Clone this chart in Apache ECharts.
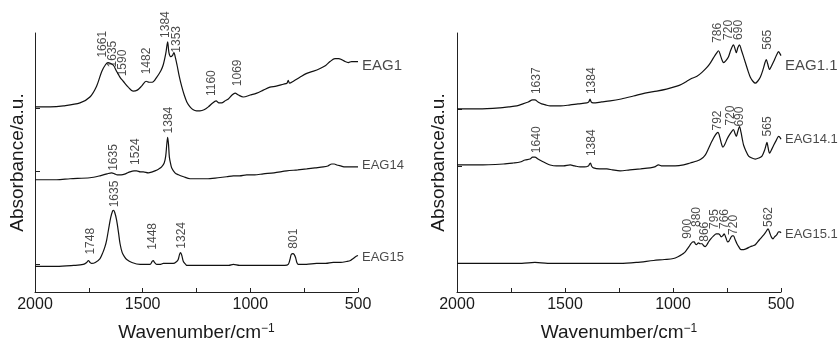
<!DOCTYPE html>
<html>
<head>
<meta charset="utf-8">
<title>FTIR spectra</title>
<script src="https://cdn.jsdelivr.net/npm/echarts@6/dist/echarts.min.js"></script>
<style>
  html, body { margin: 0; padding: 0; background: #fff; }
  #chart { width: 839px; height: 347px; }
</style>
</head>
<body>
<div id="chart"></div>
<script>
// spectra, [wavenumber, absorbance a.u.]
const eag1 = [[2000,188],[1930,188],[1868,189],[1791,192],[1745,198],[1714,209],[1690,224],[1672,231],[1661,233],[1648,232],[1635,230],[1621,224],[1605,218],[1590,214],[1567,208],[1544,204],[1525,205],[1505,209],[1484,214],[1470,213],[1455,213],[1435,218],[1415,225],[1404,231],[1392,243],[1384,254],[1378,243],[1370,239],[1362,240],[1355,243],[1348,238],[1340,230],[1330,219],[1319,209],[1307,200],[1295,193],[1280,188],[1265,185],[1250,184],[1234,184],[1215,185],[1195,188],[1175,192],[1159,194],[1146,192],[1133,192],[1118,194],[1102,196],[1085,200],[1071,202],[1055,200],[1033,198],[1000,200],[970,202],[940,205],[909,208],[880,209],[847,211],[830,212],[824,215],[818,212],[800,214],[770,218],[738,222],[710,224],[676,227],[650,230],[630,234],[607,237],[590,237],[576,236],[560,234],[545,233],[530,234],[514,234],[500,234]]
const eag14 = [[2000,114],[1900,114],[1837,115],[1745,116],[1698,118],[1665,120],[1644,121],[1630,120],[1618,119],[1600,119],[1580,120],[1559,122],[1540,123],[1528,123],[1510,122],[1497,122],[1474,121],[1455,122],[1443,123],[1425,125],[1412,127],[1400,131],[1393,138],[1388,150],[1384,157],[1380,150],[1376,137],[1370,130],[1365,126],[1350,121],[1334,119],[1310,117],[1280,115],[1240,115],[1203,115],[1150,116],[1110,117],[1079,118],[1050,118],[1017,119],[980,119],[940,120],[890,121],[831,123],[780,124],[738,125],[700,126],[661,127],[640,128],[622,130],[610,130],[599,129],[580,128],[560,127],[530,127],[500,127]]
const eag15 = [[2000,26],[1900,26],[1820,27],[1776,28],[1760,30],[1752,32],[1744,30],[1737,29],[1720,30],[1698,34],[1685,40],[1675,46],[1667,53],[1655,68],[1648,76],[1640,82],[1636,83],[1630,81],[1621,73],[1612,60],[1605,49],[1595,40],[1585,36],[1574,33],[1550,30],[1512,28],[1466,28],[1456,31],[1451,32],[1445,30],[1435,28],[1420,28],[1404,29],[1380,29],[1358,29],[1342,31],[1335,33],[1329,38],[1324,40],[1318,37],[1311,31],[1300,28],[1296,27],[1250,27],[1200,27],[1156,27],[1100,27],[1079,28],[1050,27],[986,27],[900,27],[840,27],[824,28],[816,33],[810,38],[802,39],[796,38],[790,35],[784,30],[777,28],[740,28],[692,29],[650,29],[615,30],[580,30],[553,31],[535,32],[522,34],[510,36],[500,37]]

const eag11 = [[2000,186],[1900,186],[1801,187],[1760,188],[1723,189],[1695,191],[1670,193],[1650,195],[1639,195],[1625,193],[1608,191],[1590,190],[1569,189],[1520,189],[1476,190],[1440,191],[1399,192],[1390,193],[1384,196],[1379,193],[1370,192],[1330,193],[1291,194],[1240,196],[1183,199],[1130,202],[1075,204],[1030,206],[982,209],[960,211],[936,214],[912,217],[889,219],[866,223],[843,228],[826,233],[812,238],[800,242],[789,245],[780,240],[772,235],[766,233],[755,235],[743,239],[732,246],[720,251],[713,247],[707,243],[700,248],[692,251],[684,246],[675,240],[665,233],[652,224],[642,218],[630,214],[619,212],[608,214],[596,218],[583,226],[574,233],[568,236],[562,232],[553,226],[545,229],[534,234],[522,240],[511,244],[505,242],[500,240]]
const eag141 = [[2000,129],[1900,129],[1785,130],[1740,131],[1708,132],[1685,134],[1662,135],[1650,137],[1639,137],[1625,135],[1608,133],[1590,131],[1569,129],[1540,128],[1507,128],[1476,129],[1455,128],[1430,127],[1410,127],[1392,128],[1386,130],[1382,131],[1377,128],[1368,126],[1340,125],[1306,125],[1280,124],[1245,123],[1200,124],[1150,125],[1106,126],[1085,127],[1067,129],[1050,128],[1028,128],[990,128],[951,129],[920,131],[889,133],[870,135],[851,139],[835,146],[820,153],[805,159],[792,162],[782,156],[775,150],[769,147],[760,150],[750,155],[743,158],[731,162],[720,165],[713,161],[707,158],[700,163],[692,168],[685,162],[678,154],[673,149],[662,143],[650,138],[635,136],[619,135],[603,136],[588,138],[576,144],[568,150],[565,152],[560,147],[553,141],[545,144],[534,149],[522,154],[511,158],[505,157],[500,155]]
const eag151 = [[2000,29],[1900,29],[1785,29],[1700,29],[1639,30],[1580,29],[1523,29],[1450,29],[1384,29],[1300,29],[1245,29],[1170,30],[1090,32],[1040,33],[998,34],[975,36],[959,38],[947,40],[936,43],[926,46],[917,49],[908,51],[902,51],[897,49],[892,48],[887,49],[882,50],[875,49],[866,49],[858,47],[851,46],[843,48],[835,51],[825,54],[812,57],[800,59],[789,59],[783,58],[777,56],[770,57],[763,59],[755,55],[747,51],[740,52],[733,55],[726,57],[720,57],[712,53],[704,49],[696,46],[685,43],[673,43],[660,44],[642,46],[630,47],[619,48],[608,51],[596,54],[580,58],[570,61],[560,64],[552,60],[545,56],[537,54],[530,56],[520,58],[511,61],[505,61],[500,60]]

// peak annotations, [wavenumber, height, text]
const eag1Peaks = [[1684,238,'1661'],[1638,228,'1635'],[1591,219,'1590'],[1480,221,'1482'],[1392,258,'1384'],[1341,243,'1353'],[1178,199,'1160'],[1057,209,'1069']]
const eag14Peaks = [[1633,123,'1635'],[1532,129,'1524'],[1381,161,'1384']]
const eag15Peaks = [[1741,38,'1748'],[1628,86,'1635'],[1455,43,'1448'],[1319,44,'1324'],[797,44,'801']]
const eag11Peaks = [[1631,201,'1637'],[1376,201,'1384'],[794,253,'786'],[743,256,'720'],[696,256,'690'],[562,246,'565']]
const eag141Peaks = [[1631,141,'1640'],[1376,138,'1384'],[794,164,'792'],[735,169,'720'],[689,168,'690'],[561,158,'565']]
const eag151Peaks = [[933,54,'900'],[892,66,'880'],[855,51,'866'],[809,64,'795'],[763,64,'766'],[720,58,'720'],[557,66,'562']]

// baseline marks on the absorbance axes
const leftBaseTicks = [187, 123, 28]
const rightBaseTicks = [186, 128, 29]

const font = 'Liberation Sans, Arial, Helvetica, sans-serif'
const ink = '#1a1a1a'

function xAxis(idx) {
  return {
    type: 'value',
    gridIndex: idx,
    min: 500,
    max: 2000,
    interval: 500,
    inverse: true,
    name: 'Wavenumber/cm{sup|−1}',
    nameLocation: 'middle',
    nameGap: 31,
    nameTextStyle: {
      fontSize: 19,
      color: ink,
      fontFamily: font,
      rich: {
        sup: { fontSize: 12, verticalAlign: 'top', lineHeight: 10, color: ink, fontFamily: font }
      }
    },
    axisLine: { lineStyle: { color: '#222', width: 1 } },
    axisTick: { inside: true, length: 4, lineStyle: { color: '#222' } },
    minorTick: { show: true, splitNumber: 2, length: 4, lineStyle: { color: '#222' } },
    axisLabel: { margin: 5, fontSize: 16, color: ink, fontFamily: font, formatter: v => String(v) },
    splitLine: { show: false }
  }
}

function yAxis(idx, ticks, gap) {
  return {
    type: 'value',
    gridIndex: idx,
    min: 0,
    max: 263,
    name: 'Absorbance/a.u.',
    nameLocation: 'middle',
    nameGap: gap,
    nameTextStyle: { fontSize: 19, color: ink, fontFamily: font },
    axisLine: { show: true, lineStyle: { color: '#222', width: 1 } },
    axisTick: { show: true, inside: true, length: 5, customValues: ticks, lineStyle: { color: '#222' } },
    axisLabel: { show: false },
    splitLine: { show: false }
  }
}

function spectrum(data, idx) {
  return {
    type: 'line',
    xAxisIndex: idx,
    yAxisIndex: idx,
    data: data,
    showSymbol: false,
    smooth: 0.3,
    silent: true,
    lineStyle: { color: '#111', width: 1.2 }
  }
}

function peakLabels(marks, idx) {
  return {
    type: 'scatter',
    xAxisIndex: idx,
    yAxisIndex: idx,
    data: marks,
    symbolSize: 0,
    silent: true,
    label: {
      show: true,
      position: 'inside',
      rotate: 90,
      align: 'left',
      verticalAlign: 'middle',
      fontSize: 12,
      fontFamily: font,
      color: ink,
      formatter: p => p.data[2]
    }
  }
}

// sample name at the right end of each trace
function nameLabel(name, data, idx, size, dy) {
  const last = data[data.length - 1]
  return {
    type: 'scatter',
    xAxisIndex: idx,
    yAxisIndex: idx,
    data: [[last[0], last[1], name]],
    symbolSize: 0,
    silent: true,
    label: {
      show: true,
      position: 'right',
      distance: 4,
      offset: [0, dy],
      fontSize: size,
      fontFamily: font,
      color: ink,
      formatter: p => p.data[2]
    }
  }
}

const option = {
  animation: false,
  backgroundColor: '#fff',
  grid: [
    { left: 35, top: 33, width: 323, height: 263 },
    { left: 457, top: 33, width: 324, height: 263 }
  ],
  xAxis: [xAxis(0), xAxis(1)],
  yAxis: [yAxis(0, leftBaseTicks, 8), yAxis(1, rightBaseTicks, 9)],
  series: [
    spectrum(eag1, 0),
    spectrum(eag14, 0),
    spectrum(eag15, 0),
    spectrum(eag11, 1),
    spectrum(eag141, 1),
    spectrum(eag151, 1),
    peakLabels(eag1Peaks, 0),
    peakLabels(eag14Peaks, 0),
    peakLabels(eag15Peaks, 0),
    peakLabels(eag11Peaks, 1),
    peakLabels(eag141Peaks, 1),
    peakLabels(eag151Peaks, 1),
    nameLabel('EAG1', eag1, 0, 15, 4),
    nameLabel('EAG14', eag14, 0, 13, -2),
    nameLabel('EAG15', eag15, 0, 13, 2),
    nameLabel('EAG1.1', eag11, 1, 15, 10),
    nameLabel('EAG14.1', eag141, 1, 13, 0),
    nameLabel('EAG15.1', eag151, 1, 13, 2)
  ]
}

let myChart = echarts.init(document.getElementById('chart'))
myChart.setOption(option)
</script>
</body>
</html>
